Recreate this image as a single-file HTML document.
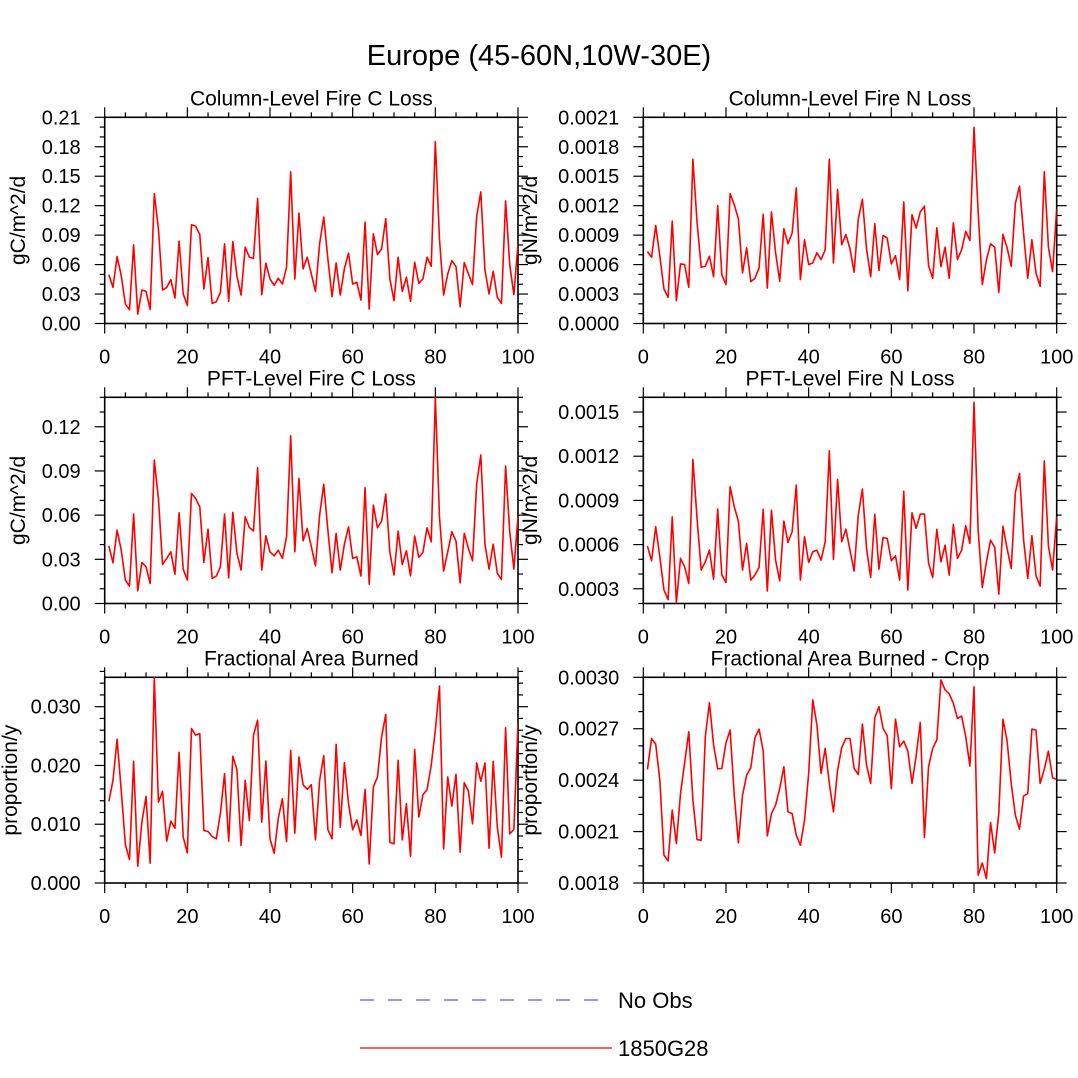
<!DOCTYPE html>
<html><head><meta charset="utf-8"><style>
html,body{margin:0;padding:0;background:#fff;}
svg{display:block;font-family:"Liberation Sans",sans-serif;}
</style></head><body>
<svg id="chart" width="1078" height="1078" viewBox="0 0 1078 1078" xmlns="http://www.w3.org/2000/svg">
<text x="539" y="65" font-size="29" text-anchor="middle">Europe (45-60N,10W-30E)</text>
<g>
<line x1="360" y1="1000" x2="604" y2="1000" stroke="#3333cc" stroke-width="1" stroke-dasharray="14,14"/>
<text x="618" y="1008" font-size="22">No Obs</text>
<line x1="360" y1="1048" x2="612" y2="1048" stroke="#ff0000" stroke-width="1.3"/>
<text x="618" y="1056" font-size="22">1850G28</text>
</g>
</svg>
<script>
const years = Array.from({length:100},(_,i)=>i+1);
const colC = [0.0498,0.0368,0.0682,0.0488,0.0198,0.0140,0.0801,0.0095,0.0341,0.0327,0.0143,0.1323,0.0965,0.0341,0.0368,0.0447,0.0259,0.0839,0.0300,0.0184,0.1006,0.0992,0.0907,0.0351,0.0672,0.0205,0.0222,0.0317,0.0812,0.0225,0.0835,0.0481,0.0290,0.0777,0.0675,0.0662,0.1272,0.0293,0.0614,0.0454,0.0389,0.0460,0.0402,0.0573,0.1545,0.0454,0.1125,0.0556,0.0675,0.0505,0.0327,0.0812,0.1084,0.0658,0.0273,0.0617,0.0290,0.0559,0.0716,0.0402,0.0419,0.0239,0.1033,0.0147,0.0914,0.0702,0.0760,0.1067,0.0454,0.0232,0.0675,0.0327,0.0471,0.0225,0.0624,0.0409,0.0454,0.0675,0.0583,0.1852,0.0863,0.0290,0.0505,0.0641,0.0580,0.0171,0.0621,0.0505,0.0396,0.1091,0.1340,0.0546,0.0300,0.0532,0.0266,0.0205,0.1248,0.0600,0.0293,0.0812];
const colN = [0.000733,0.000675,0.000999,0.000685,0.000351,0.000266,0.001043,0.000232,0.000607,0.000600,0.000368,0.001674,0.001033,0.000573,0.000583,0.000685,0.000477,0.001200,0.000494,0.000396,0.001323,0.001211,0.001067,0.000515,0.000771,0.000426,0.000460,0.000566,0.001112,0.000361,0.001136,0.000720,0.000430,0.000965,0.000812,0.000921,0.001381,0.000447,0.000853,0.000600,0.000617,0.000720,0.000651,0.000750,0.001674,0.000617,0.001364,0.000801,0.000907,0.000760,0.000522,0.001061,0.001265,0.000760,0.000477,0.001016,0.000539,0.000897,0.000870,0.000607,0.000692,0.000447,0.001238,0.000334,0.001108,0.000972,0.001136,0.001194,0.000590,0.000460,0.000975,0.000580,0.000777,0.000460,0.001026,0.000651,0.000750,0.000938,0.000846,0.001998,0.001136,0.000396,0.000648,0.000812,0.000777,0.000317,0.000907,0.000771,0.000583,0.001221,0.001398,0.000914,0.000460,0.000853,0.000512,0.000379,0.001545,0.000777,0.000529,0.001170];
const pftC = [0.0392,0.0276,0.0498,0.0362,0.0159,0.0118,0.0607,0.0086,0.0279,0.0249,0.0136,0.0974,0.0713,0.0265,0.0306,0.0351,0.0199,0.0616,0.0233,0.0159,0.0747,0.0713,0.0657,0.0279,0.0505,0.0170,0.0186,0.0249,0.0607,0.0174,0.0618,0.0340,0.0227,0.0589,0.0516,0.0492,0.0922,0.0227,0.0460,0.0351,0.0324,0.0362,0.0306,0.0453,0.1139,0.0351,0.0849,0.0426,0.0510,0.0385,0.0256,0.0600,0.0809,0.0498,0.0208,0.0476,0.0227,0.0403,0.0521,0.0306,0.0317,0.0186,0.0786,0.0131,0.0668,0.0514,0.0559,0.0743,0.0347,0.0193,0.0492,0.0265,0.0358,0.0188,0.0458,0.0313,0.0347,0.0514,0.0419,0.1400,0.0589,0.0220,0.0351,0.0487,0.0424,0.0140,0.0476,0.0374,0.0290,0.0811,0.1008,0.0403,0.0233,0.0403,0.0204,0.0163,0.0933,0.0487,0.0233,0.0589];
const pftN = [0.000590,0.000490,0.000721,0.000517,0.000291,0.000227,0.000789,0.000205,0.000506,0.000449,0.000336,0.001178,0.000778,0.000427,0.000483,0.000562,0.000365,0.000841,0.000393,0.000343,0.000993,0.000857,0.000759,0.000427,0.000608,0.000359,0.000393,0.000445,0.000839,0.000284,0.000834,0.000494,0.000354,0.000759,0.000614,0.000687,0.001004,0.000359,0.000653,0.000479,0.000551,0.000562,0.000494,0.000619,0.001237,0.000499,0.001043,0.000619,0.000705,0.000562,0.000420,0.000800,0.000977,0.000574,0.000377,0.000805,0.000433,0.000648,0.000642,0.000490,0.000524,0.000359,0.000963,0.000291,0.000816,0.000710,0.000807,0.000807,0.000476,0.000377,0.000703,0.000483,0.000596,0.000393,0.000737,0.000506,0.000562,0.000728,0.000608,0.001566,0.000698,0.000309,0.000483,0.000630,0.000581,0.000263,0.000725,0.000574,0.000438,0.000952,0.001083,0.000630,0.000370,0.000660,0.000388,0.000318,0.001169,0.000590,0.000427,0.000789];
const fab = [0.01388,0.01747,0.02447,0.01576,0.00654,0.00398,0.02071,0.00285,0.01036,0.01474,0.00336,0.03500,0.01377,0.01559,0.00711,0.01053,0.00933,0.02225,0.00780,0.00512,0.02629,0.02515,0.02543,0.00893,0.00876,0.00791,0.00751,0.01189,0.01861,0.00711,0.02157,0.01929,0.00637,0.01747,0.01064,0.02515,0.02771,0.01036,0.02077,0.00751,0.00506,0.01104,0.01434,0.00706,0.02259,0.00848,0.02145,0.01673,0.01593,0.01673,0.00734,0.01747,0.02168,0.00910,0.00751,0.02361,0.00950,0.02048,0.01349,0.00905,0.01075,0.00808,0.01593,0.00324,0.01633,0.01804,0.02487,0.02868,0.00694,0.00666,0.02088,0.00734,0.01349,0.00455,0.02270,0.01121,0.01502,0.01588,0.02003,0.02600,0.03351,0.00580,0.01804,0.01309,0.01849,0.00523,0.01707,0.01565,0.01007,0.02043,0.01730,0.02043,0.00592,0.02071,0.00950,0.00438,0.02640,0.00836,0.00910,0.02714];
const fabCrop = [0.002462,0.002643,0.002610,0.002400,0.001962,0.001929,0.002225,0.002030,0.002322,0.002501,0.002682,0.002283,0.002053,0.002049,0.002653,0.002852,0.002605,0.002466,0.002468,0.002618,0.002692,0.002312,0.002034,0.002312,0.002429,0.002472,0.002647,0.002698,0.002571,0.002075,0.002205,0.002254,0.002351,0.002478,0.002215,0.002205,0.002079,0.002020,0.002166,0.002439,0.002868,0.002721,0.002439,0.002585,0.002381,0.002215,0.002458,0.002591,0.002643,0.002643,0.002468,0.002433,0.002727,0.002488,0.002381,0.002764,0.002829,0.002702,0.002659,0.002351,0.002756,0.002595,0.002628,0.002569,0.002381,0.002542,0.002737,0.002065,0.002478,0.002585,0.002634,0.002984,0.002926,0.002903,0.002848,0.002760,0.002774,0.002653,0.002482,0.002945,0.001845,0.001917,0.001825,0.002153,0.001975,0.002209,0.002756,0.002628,0.002381,0.002195,0.002114,0.002308,0.002322,0.002698,0.002692,0.002381,0.002464,0.002569,0.002414,0.002404];

const NS='http://www.w3.org/2000/svg';
const svg=document.getElementById('chart');
function mk(tag,attrs,parent){const e=document.createElementNS(NS,tag);for(const k in attrs)e.setAttribute(k,attrs[k]);(parent||svg).appendChild(e);return e;}

const xTicks=[0,20,40,60,80,100];
const panels=[
 {key:'col-c',title:'Column-Level Fire C Loss',ytitle:'gC/m^2/d',data:colC,x0:104.7,x1:518,y0:117.3,y1:323.5,ymin:0,ymax:0.21,major:0.03,minor:0.01,dec:2,ytx:25},
 {key:'col-n',title:'Column-Level Fire N Loss',ytitle:'gN/m^2/d',data:colN,x0:643.3,x1:1056.7,y0:117.3,y1:323.5,ymin:0,ymax:0.0021,major:0.0003,minor:0.0001,dec:4,ytx:537},
 {key:'pft-c',title:'PFT-Level Fire C Loss',ytitle:'gC/m^2/d',data:pftC,x0:104.7,x1:518,y0:397.3,y1:603.5,ymin:0,ymax:0.14,major:0.03,minor:0.01,dec:2,ytx:25},
 {key:'pft-n',title:'PFT-Level Fire N Loss',ytitle:'gN/m^2/d',data:pftN,x0:643.3,x1:1056.7,y0:397.3,y1:603.5,ymin:0.0002,ymax:0.0016,major:0.0003,minor:0.0001,dec:4,ytx:537},
 {key:'fab',title:'Fractional Area Burned',ytitle:'proportion/y',data:fab,x0:104.7,x1:518,y0:677.3,y1:883,ymin:0,ymax:0.035,major:0.01,minor:0.002,dec:3,ytx:17},
 {key:'fab-crop',title:'Fractional Area Burned - Crop',ytitle:'proportion/y',data:fabCrop,x0:643.3,x1:1056.7,y0:677.3,y1:883,ymin:0.0018,ymax:0.0030,major:0.0003,minor:0.0001,dec:4,ytx:537}
];

panels.forEach(p=>{
 const g=mk('g',{});
 
 
 const xs=v=>p.x0+(v-0)/100*(p.x1-p.x0);
 const ys=v=>p.y1-(v-p.ymin)/(p.ymax-p.ymin)*(p.y1-p.y0);
 const t=mk('text',{x:(p.x0+p.x1)/2,y:p.y0-12,'font-size':21,'text-anchor':'middle'},g);
 t.textContent=p.title;
 
 
 const yt=mk('text',{x:0,y:0,'font-size':21,'text-anchor':'middle',transform:`translate(${p.ytx},${(p.y0+p.y1)/2}) rotate(-90)`},g);
 yt.textContent=p.ytitle;
 
 
 for(let v=0;v<=100;v+=5){
  const maj=v%20===0, L=maj?10:5, x=xs(v);
  mk('line',{x1:x,y1:p.y1,x2:x,y2:p.y1+L,stroke:'#000','stroke-width':1.2},g);
  mk('line',{x1:x,y1:p.y0,x2:x,y2:p.y0-L,stroke:'#000','stroke-width':1.2},g);
 }
 xTicks.forEach(v=>{
  const l=mk('text',{x:xs(v),y:p.y1+40,'font-size':20,'text-anchor':'middle'},g);
  l.textContent=String(v);
  
  
 });
 const n=Math.round((p.ymax-p.ymin)/p.minor);
 const ratio=Math.round(p.major/p.minor);
 for(let i=0;i<=n;i++){
  const v=p.ymin+i*p.minor, y=ys(v);
  const k=Math.round(v/p.minor);
  const maj=k%ratio===0, L=maj?10:5;
  mk('line',{x1:p.x0,y1:y,x2:p.x0-L,y2:y,stroke:'#000','stroke-width':1.2},g);
  mk('line',{x1:p.x1,y1:y,x2:p.x1+L,y2:y,stroke:'#000','stroke-width':1.2},g);
  if(maj){
   const l=mk('text',{x:p.x0-24,y:y+7,'font-size':20,'text-anchor':'end'},g);
   l.textContent=v.toFixed(p.dec);
   
   
  }
 }
 const r=mk('rect',{x:p.x0,y:p.y0,width:p.x1-p.x0,height:p.y1-p.y0,fill:'none',stroke:'#000','stroke-width':1.6},g);
 
 
 const d=p.data.map((v,i)=>(i?'L':'M')+xs(years[i]).toFixed(2)+','+ys(v).toFixed(2)).join('');
 const cp=mk('clipPath',{id:'clip-'+p.key},g);
 mk('rect',{x:p.x0,y:p.y0-1,width:p.x1-p.x0,height:p.y1-p.y0+2},cp);
 const path=mk('path',{d:d,fill:'none',stroke:'#ff0000','stroke-width':1.6,'stroke-linejoin':'round','clip-path':`url(#clip-${p.key})`},g);
 
 
});
</script>
</body></html>
